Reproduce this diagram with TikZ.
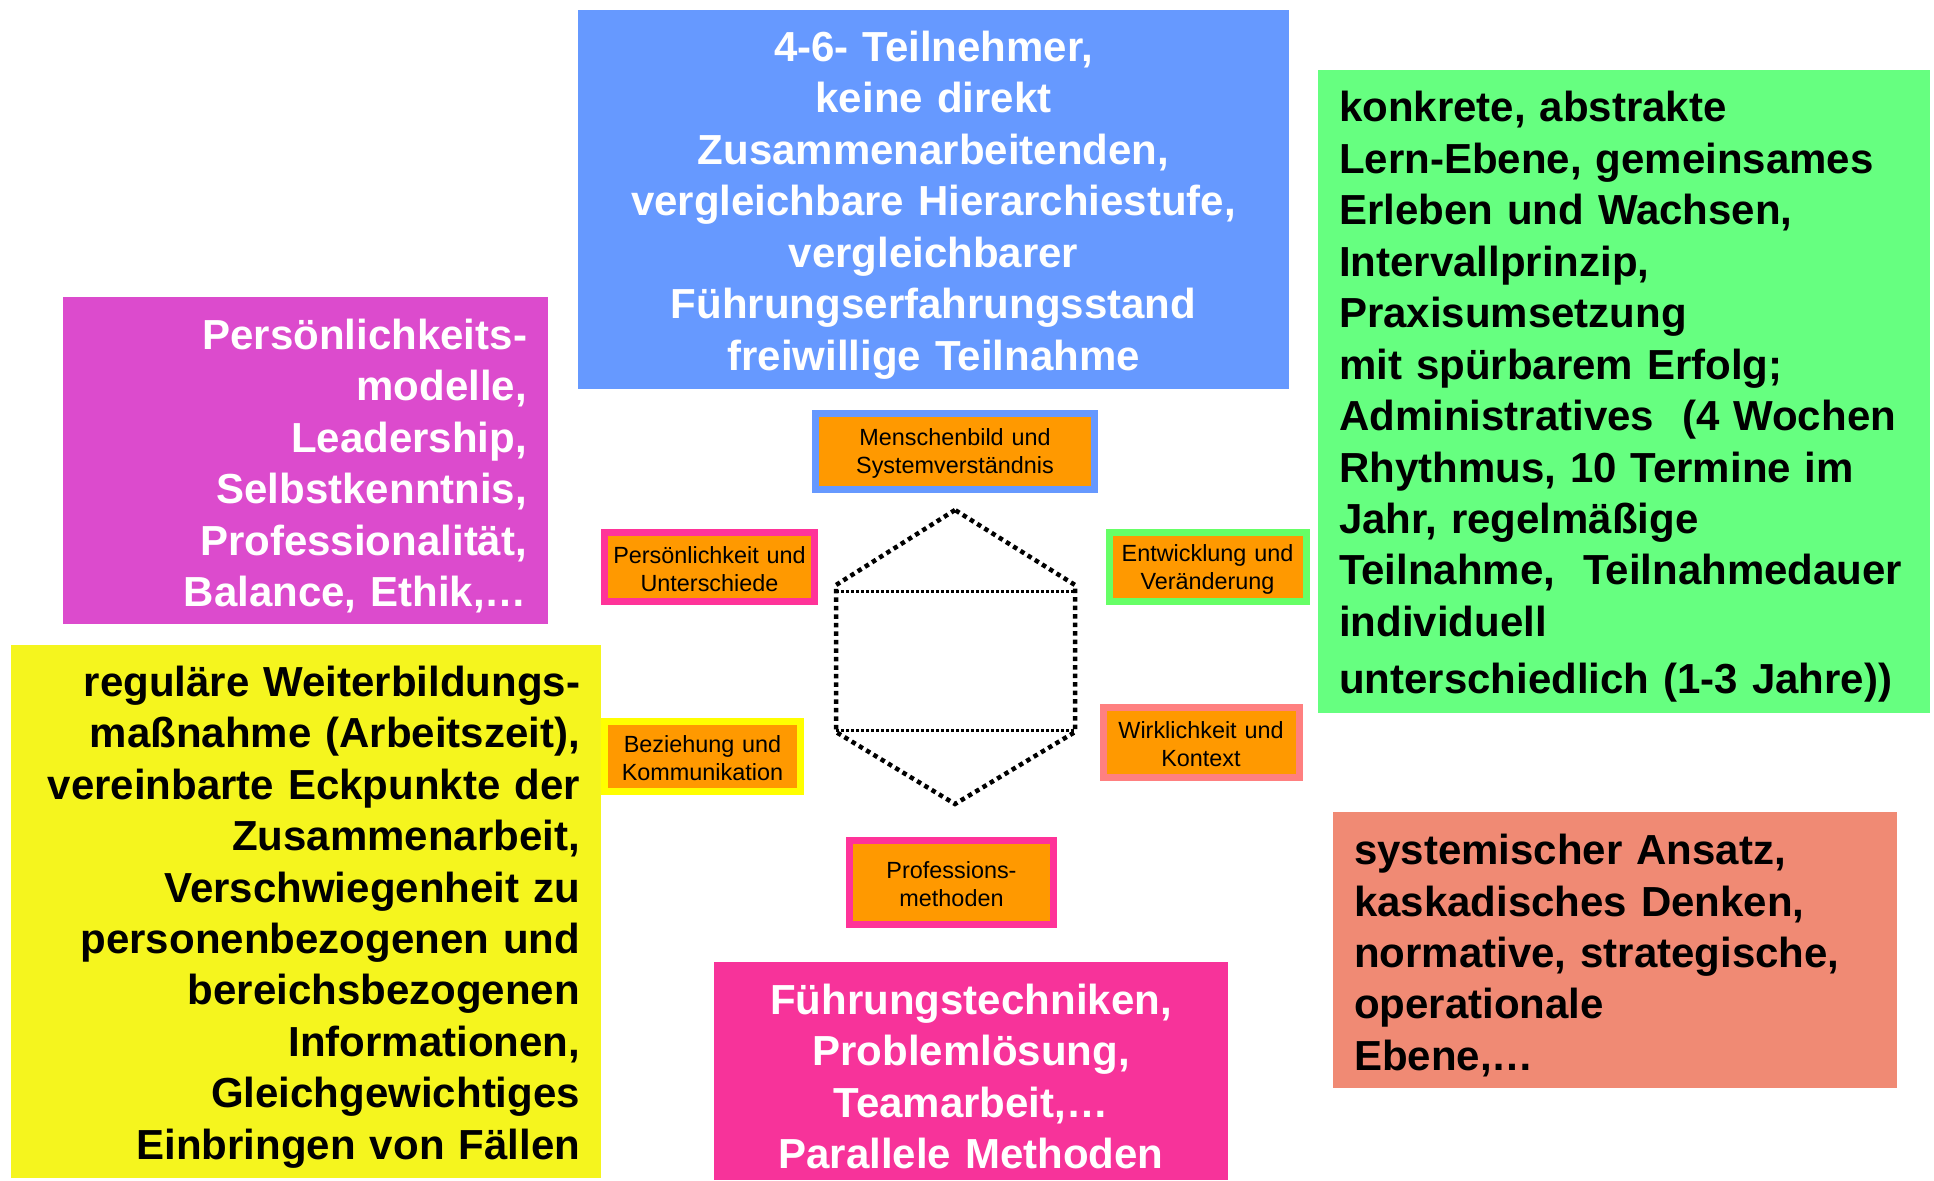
\documentclass[tikz,border=0pt]{standalone}
\usepackage{fontspec}
\setmainfont{Liberation Sans}
\usetikzlibrary{positioning}
\definecolor{bluec}{HTML}{6699FF}
\definecolor{greenc}{HTML}{66FF80}
\definecolor{magc}{HTML}{DC4BCD}
\definecolor{yelc}{HTML}{F5F51E}
\definecolor{pinkc}{HTML}{F7339A}
\definecolor{salc}{HTML}{F08A74}
\definecolor{orc}{HTML}{FF9900}
\definecolor{rimpink}{HTML}{FF3399}
\definecolor{rimgreen}{HTML}{66FF66}
\definecolor{rimyel}{HTML}{FFFF00}
\definecolor{rimsal}{HTML}{FF8080}

\begin{document}
\begin{tikzpicture}[x=1pt,y=-1pt,
  bigbox/.style={rectangle,inner xsep=21pt,inner ysep=0pt,font=\fontsize{42}{51.45}\selectfont\bfseries,
     execute at begin node={\rule{0pt}{41.5pt}}},
  smallbox/.style={rectangle,fill=orc,line width=7pt,align=center,inner sep=0pt,font=\fontsize{23.4}{28}\selectfont,
     execute at begin node={\rule{0pt}{22pt}}},
  hexline/.style={line width=4.5pt,dash pattern=on 4.5pt off 4pt},
  hexmid/.style={line width=3pt,dash pattern=on 2.5pt off 2.5pt}]
  \useasboundingbox (0,0) rectangle (1934,1180);
  % outer boxes
  \node[bigbox,fill=bluec,text=white,align=center,text width=669pt,minimum height=379pt] (teiln) at (933.5,199.5)
     {4-6- Teilnehmer,\\keine direkt\\Zusammenarbeitenden,\\vergleichbare Hierarchiestufe,\\vergleichbarer\\Führungserfahrungsstand\\freiwillige Teilnahme};
  \node[bigbox,fill=greenc,align=left,text width=570pt,minimum height=643pt] (lernen) at (1624,391.5)
     {konkrete, abstrakte\\Lern-Ebene, gemeinsames\\Erleben und Wachsen,\\Intervallprinzip,\\Praxisumsetzung\\mit spürbarem Erfolg;\\Administratives\ \ (4 Wochen\\Rhythmus, 10 Termine im\\Jahr, regelmäßige\\Teilnahme,\ \ Teilnahmedauer\\individuell\\[6pt]unterschiedlich (1-3 Jahre))};
  \node[bigbox,fill=magc,text=white,align=right,text width=443pt,minimum height=327pt] (modelle) at (305.5,460.5)
     {Persönlichkeits-\\modelle,\\Leadership,\\Selbstkenntnis,\\Professionalität,\\Balance, Ethik,…};
  \node[bigbox,fill=yelc,align=right,text width=548pt,minimum height=533pt] (regeln) at (306,911.5)
     {reguläre Weiterbildungs-\\maßnahme (Arbeitszeit),\\vereinbarte Eckpunkte der\\Zusammenarbeit,\\Verschwiegenheit zu\\personenbezogenen und\\bereichsbezogenen\\Informationen,\\Gleichgewichtiges\\Einbringen von Fällen};
  \node[bigbox,fill=pinkc,text=white,align=center,text width=472pt,minimum height=218pt] (techniken) at (971,1071)
     {Führungstechniken,\\Problemlösung,\\Teamarbeit,…\\Parallele Methoden};
  \node[bigbox,fill=salc,align=left,text width=522pt,minimum height=276pt] (ansatz) at (1615,950)
     {systemischer Ansatz,\\kaskadisches Denken,\\normative, strategische,\\operationale\\Ebene,…};
  % inner topics
  \foreach \n/\x/\y/\w/\h/\c/\t in {
     menschen/955/451/279/76/bluec/{Menschenbild und\\Systemverständnis},
     persoen/709.5/567/210/69/rimpink/{Persönlichkeit und\\Unterschiede},
     entw/1207.5/567/197/69/rimgreen/{Entwicklung und\\Veränderung},
     bez/702.5/756/196/70/rimyel/{Beziehung und\\Kommunikation},
     wirk/1201/742/196/70/rimsal/{Wirklichkeit und\\Kontext},
     prof/951.5/882/204/84/rimpink/{Professions-\\methoden}}
     \node[smallbox,draw=\c,text width=\w pt,minimum height=\h pt] (\n) at (\x,\y) {\t};
  % hexagon
  \coordinate (htop) at (955,510);
  \coordinate (hul) at (836,585);
  \coordinate (hll) at (836,732);
  \coordinate (hbot) at (955,804);
  \coordinate (hlr) at (1075,732);
  \coordinate (hur) at (1075,585);
  \draw[hexline] (htop) -- (hul) -- (hll) -- (hbot) -- (hlr) -- (hur) -- cycle;
  \draw[hexmid] (836,591) -- (1075,591);
  \draw[hexmid] (836,730) -- (1075,730);
\end{tikzpicture}
\end{document}
